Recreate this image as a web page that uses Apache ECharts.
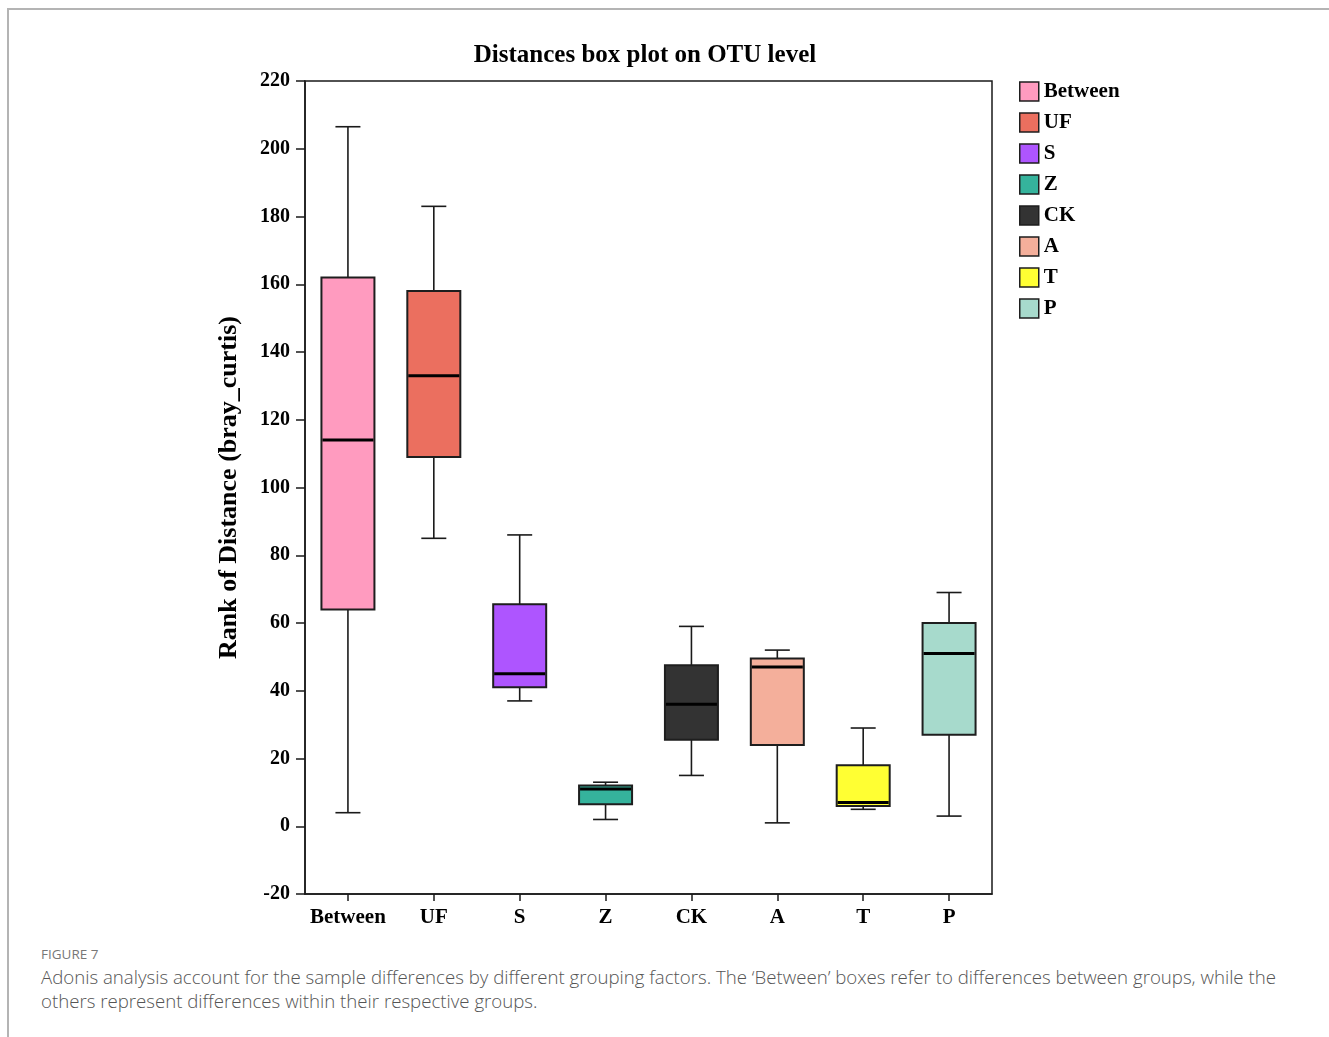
<!DOCTYPE html>
<html>
<head>
<meta charset="utf-8">
<title>Distances box plot on OTU level</title>
<script src="https://cdn.jsdelivr.net/npm/echarts@6/dist/echarts.min.js"></script>
<style>
  html, body { margin: 0; padding: 0; background: #fff; }
  #page { position: relative; width: 1329px; height: 1037px; overflow: hidden; }
  #frameTop { position: absolute; left: 7px; top: 8px; width: 1322px; height: 2px; background: #b4b4b4; }
  #frameLeft { position: absolute; left: 7px; top: 8px; width: 2px; height: 1029px; background: #b4b4b4; }
  #chart { position: absolute; left: 0; top: 0; width: 1329px; height: 940px; }
  #figLabel { position: absolute; left: 41px; top: 945px; font-family: "Open Sans", sans-serif; font-size: 13.5px; color: #777; }
  #caption { position: absolute; left: 41px; top: 965px; width: 1285px; font-family: "Open Sans", sans-serif; font-weight: 300; font-size: 18.65px; line-height: 24px; color: #555; white-space: nowrap; }
</style>
</head>
<body>
<div id="page">
  <div id="frameTop"></div>
  <div id="frameLeft"></div>
  <div id="chart"></div>
  <div id="figLabel">FIGURE 7</div>
  <div id="caption">Adonis analysis account for the sample differences by different grouping factors. The ‘Between’ boxes refer to differences between groups, while the<br>others represent differences within their respective groups.</div>
</div>
<script>
// Groups along the x axis
const categories = ['Between', 'UF', 'S', 'Z', 'CK', 'A', 'T', 'P'];

// Box statistics per group: [lower whisker, Q1, median, Q3, upper whisker]
const statsBetween = [4, 64, 114, 162, 206.5];
const statsUF      = [85, 109, 133, 158, 183];
const statsS       = [37, 41, 45, 65.5, 86];
const statsZ       = [2, 6.5, 11, 12, 13];
const statsCK      = [15, 25.5, 36, 47.5, 59];
const statsA       = [1, 24, 47, 49.5, 52];
const statsT       = [5, 6, 7, 18, 29];
const statsP       = [3, 27, 51, 60, 69];

const groupStats = [statsBetween, statsUF, statsS, statsZ, statsCK, statsA, statsT, statsP];
const groupColors = ['#FF9BBF', '#EB6F5F', '#AE55FF', '#35B39C', '#333333', '#F4AF9B', '#FFFF33', '#A7DACC'];

// Y axis ticks
const yMin = -20, yMax = 220, yStep = 20;

const SERIF = '"Liberation Serif", "Times New Roman", serif';
const BOX_W = 53, CAP_W = 25;

function renderBox(params, api) {
  const x = api.value(0);
  const low = api.coord([x, api.value(1)]);
  const q1 = api.coord([x, api.value(2)]);
  const med = api.coord([x, api.value(3)]);
  const q3 = api.coord([x, api.value(4)]);
  const high = api.coord([x, api.value(5)]);
  const cx = low[0];
  const fill = api.visual('color');
  const lineStyle = { stroke: '#1a1a1a', lineWidth: 1.6 };
  return {
    type: 'group',
    children: [
      { type: 'line', shape: { x1: cx, y1: high[1], x2: cx, y2: q3[1] }, style: lineStyle },
      { type: 'line', shape: { x1: cx, y1: q1[1], x2: cx, y2: low[1] }, style: lineStyle },
      { type: 'line', shape: { x1: cx - CAP_W / 2, y1: high[1], x2: cx + CAP_W / 2, y2: high[1] }, style: lineStyle },
      { type: 'line', shape: { x1: cx - CAP_W / 2, y1: low[1], x2: cx + CAP_W / 2, y2: low[1] }, style: lineStyle },
      { type: 'rect', shape: { x: cx - BOX_W / 2, y: q3[1], width: BOX_W, height: q1[1] - q3[1] },
        style: { fill: fill, stroke: '#1e1e1e', lineWidth: 2 } },
      { type: 'line', shape: { x1: cx - BOX_W / 2 + 1, y1: med[1], x2: cx + BOX_W / 2 - 1, y2: med[1] },
        style: { stroke: '#000', lineWidth: 3 } }
    ]
  };
}

const series = categories.map((name, i) => ({
  name: name,
  type: 'custom',
  renderItem: renderBox,
  itemStyle: { color: groupColors[i], borderColor: '#1e1e1e', borderWidth: 1.5 },
  encode: { x: 0, y: [1, 2, 3, 4, 5] },
  data: [[i].concat(groupStats[i])],
  silent: true
}));

const chart = echarts.init(document.getElementById('chart'), null, { renderer: 'canvas' });
chart.setOption({
  animation: false,
  backgroundColor: 'transparent',
  grid: {
    left: 305, top: 81, width: 687, height: 813,
    show: true, borderColor: '#1a1a1a', borderWidth: 1.5, backgroundColor: 'transparent'
  },
  graphic: [{
    type: 'text', x: 645, y: 56,
    style: {
      text: 'Distances box plot on OTU level',
      font: 'bold 25px ' + SERIF, fill: '#000',
      textAlign: 'center', textVerticalAlign: 'middle'
    }
  }],
  legend: {
    orient: 'vertical', left: 1019, top: 81, padding: 0,
    itemWidth: 19, itemHeight: 19, itemGap: 10,
    icon: 'rect',
    itemStyle: { borderColor: '#1e1e1e', borderWidth: 1.5 },
    textStyle: { fontFamily: SERIF, fontWeight: 'bold', fontSize: 21, lineHeight: 19, color: '#000', padding: [2, 0, 0, 0] },
    selectedMode: false,
    data: categories
  },
  xAxis: {
    type: 'category',
    data: categories,
    boundaryGap: true,
    axisLine: { show: true, onZero: false, lineStyle: { color: '#1a1a1a', width: 1.5 } },
    axisTick: { show: true, alignWithLabel: true, length: 7, lineStyle: { color: '#1a1a1a', width: 1.5 } },
    axisLabel: { interval: 0, fontFamily: SERIF, fontWeight: 'bold', fontSize: 21, color: '#000', margin: 13 },
    splitLine: { show: false }
  },
  yAxis: {
    type: 'value',
    min: yMin, max: yMax, interval: yStep,
    name: 'Rank of Distance (bray_curtis)',
    nameLocation: 'middle', nameRotate: 90, nameGap: 63,
    nameTextStyle: { fontFamily: SERIF, fontWeight: 'bold', fontSize: 26, color: '#000' },
    axisLine: { show: true, lineStyle: { color: '#1a1a1a', width: 1.5 } },
    axisTick: { show: true, length: 9, lineStyle: { color: '#1a1a1a', width: 1.5 } },
    axisLabel: { fontFamily: SERIF, fontWeight: 'bold', fontSize: 20, color: '#000', margin: 15 },
    splitLine: { show: false }
  },
  series: series
});
</script>
</body>
</html>
